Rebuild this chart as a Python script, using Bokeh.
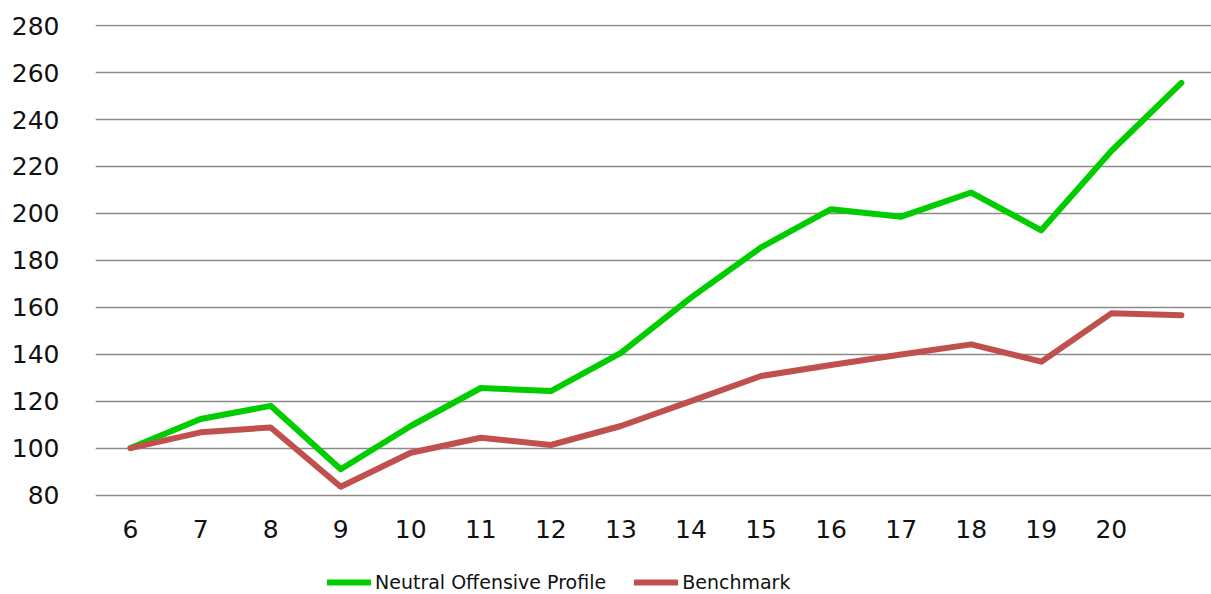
from bokeh.plotting import figure
from bokeh.models import FixedTicker, Legend, LegendItem, Range1d
from bokeh.embed import file_html
from bokeh.resources import INLINE

periods = [6, 7, 8, 9, 10, 11, 12, 13, 14, 15, 16, 17, 18, 19, 20, 21]
tick_labels = ["6", "7", "8", "9", "10", "11", "12", "13", "14", "15", "16", "17", "18", "19", "20"]
neutral_offensive = [100, 112.4, 118, 91, 109.4, 125.6, 124.3, 140.6, 164.1, 185.5,
                     201.8, 198.6, 208.9, 192.8, 226.6, 255.6]
benchmark = [100, 106.7, 108.8, 83.5, 98, 104.4, 101.3, 109.4, 120, 130.7,
             135.4, 139.9, 144.2, 136.8, 157.4, 156.6]
y_ticks = [80, 100, 120, 140, 160, 180, 200, 220, 240, 260, 280]

FONT = "DejaVu Sans"

# frame spans from 24px to the bottom of the figure; the x axis is pinned at y=80
p = figure(width=1211, height=594, output_backend="svg", toolbar_location=None,
           x_range=Range1d(5.5, 21.43), y_range=Range1d(37.6, 280.5),
           min_border_left=95, min_border_right=0, min_border_top=24, min_border_bottom=0)
p.outline_line_color = None
p.background_fill_color = "white"

g = p.line(periods, neutral_offensive, line_color="#00CC00", line_width=6,
           line_join="round", line_cap="round")
r = p.line(periods, benchmark, line_color="#C0504D", line_width=6,
           line_join="round", line_cap="round")

# axes
p.xaxis.fixed_location = 80
p.xaxis.ticker = FixedTicker(ticks=periods[:-1])
p.xaxis.major_label_overrides = {v: t for v, t in zip(periods[:-1], tick_labels)}
p.yaxis.ticker = FixedTicker(ticks=y_ticks)
for ax in (p.xaxis[0], p.yaxis[0]):
    ax.axis_line_color = None
    ax.major_tick_line_color = None
    ax.minor_tick_line_color = None
    ax.major_tick_out = 0
    ax.major_tick_in = 0
    ax.major_label_text_font = FONT
    ax.major_label_text_font_size = "25px"
    ax.major_label_text_color = "#111111"
p.yaxis.major_label_standoff = 36
p.xaxis.major_label_standoff = 25

p.xgrid.grid_line_color = None
p.ygrid.ticker = FixedTicker(ticks=y_ticks)
p.ygrid.grid_line_color = "#8a8a8a"
p.ygrid.grid_line_width = 1.6

legend = Legend(items=[LegendItem(label="Neutral Offensive Profile", renderers=[g]),
                       LegendItem(label="Benchmark", renderers=[r])],
                orientation="horizontal", location=(232, 1))
legend.label_text_font = FONT
legend.label_text_font_size = "19px"
legend.label_text_color = "#111111"
legend.glyph_width = 44
legend.glyph_height = 20
legend.label_height = 20
legend.label_standoff = 4
legend.spacing = 28
legend.padding = 0
legend.margin = 0
legend.border_line_color = None
legend.background_fill_alpha = 0
p.add_layout(legend, "center")

open("out.html", "w").write(file_html(p, INLINE))
